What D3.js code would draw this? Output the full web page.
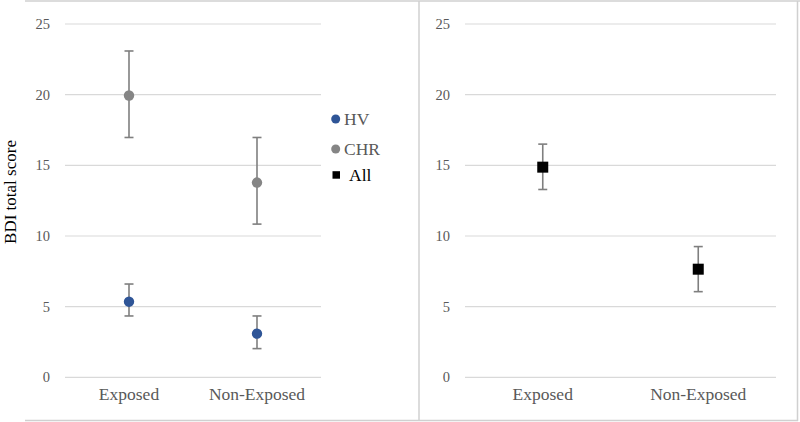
<!DOCTYPE html>
<html><head><meta charset="utf-8">
<script src="https://cdn.jsdelivr.net/npm/d3@7"></script>
<style>body{margin:0;background:#fff}svg{display:block}text{font-family:"Liberation Serif","Times New Roman",serif}</style>
</head><body>
<svg id="c" width="800" height="422"></svg>
<script>
const categories = ["Exposed", "Non-Exposed"];
const yTicks = [0, 5, 10, 15, 20, 25];
const hvMean = [5.35, 3.09];
const hvLow = [4.34, 2.03];
const hvHigh = [6.6, 4.34];
const chrMean = [19.94, 13.78];
const chrLow = [16.97, 10.84];
const chrHigh = [23.09, 16.97];
const allMean = [14.87, 7.65];
const allLow = [13.29, 6.06];
const allHigh = [16.5, 9.25];
const legendLabels = ["HV", "CHR", "All"];
const yLabel = "BDI total score";

const svg = d3.select("#c");
const gridC = "#d9d9d9", textC = "#595959", errC = "#7f7f7f";
const hvC = "#2f5597", chrC = "#858585", allC = "#000000";

// frames
const frame = svg.append("g").attr("stroke", "#d0d0d0").attr("stroke-width", 1.5).attr("fill", "none");
frame.append("line").attr("x1", 25).attr("x2", 800).attr("y1", 1).attr("y2", 1);
frame.append("line").attr("x1", 25).attr("x2", 798).attr("y1", 420.5).attr("y2", 420.5);
frame.append("line").attr("x1", 419).attr("x2", 419).attr("y1", 1).attr("y2", 421);
frame.append("line").attr("x1", 797.5).attr("x2", 797.5).attr("y1", 1).attr("y2", 421);

const y = d3.scaleLinear().domain([0, 25]).range([377.3, 24]);

function panel(x0, x1, labelX, series) {
  const x = d3.scaleBand().domain(categories).range([x0, x1]);
  const g = svg.append("g");
  // gridlines
  g.selectAll(".grid").data(yTicks).join("line")
    .attr("x1", x0).attr("x2", x1)
    .attr("y1", d => y(d)).attr("y2", d => y(d))
    .attr("stroke", gridC).attr("stroke-width", 1.2);
  // y tick labels via axis
  const ax = g.append("g").attr("transform", `translate(${labelX},0)`)
    .call(d3.axisLeft(y).tickValues(yTicks).tickSize(0).tickPadding(0));
  ax.select(".domain").remove();
  ax.selectAll("text").attr("font-family", "Liberation Serif").attr("font-size", 14.5).attr("fill", textC);
  // x labels via axis
  const bx = g.append("g").attr("transform", `translate(0,388)`)
    .call(d3.axisBottom(x).tickSize(0).tickPadding(0));
  bx.select(".domain").remove();
  bx.selectAll("text").attr("font-family", "Liberation Serif").attr("font-size", 17.5).attr("fill", textC).attr("dy", "0.71em");

  series.forEach(s => {
    const cx = d => x(d) + x.bandwidth() / 2;
    const eg = g.append("g").attr("stroke", errC).attr("stroke-width", 1.6);
    categories.forEach((c, i) => {
      eg.append("line").attr("x1", cx(c)).attr("x2", cx(c)).attr("y1", y(s.high[i])).attr("y2", y(s.low[i]));
      eg.append("line").attr("x1", cx(c) - 4.5).attr("x2", cx(c) + 4.5).attr("y1", y(s.high[i])).attr("y2", y(s.high[i]));
      eg.append("line").attr("x1", cx(c) - 4.5).attr("x2", cx(c) + 4.5).attr("y1", y(s.low[i])).attr("y2", y(s.low[i]));
    });
    if (s.shape === "circle") {
      g.selectAll(null).data(categories).join("circle")
        .attr("cx", cx).attr("cy", (d, i) => y(s.mean[i])).attr("r", 5.2).attr("fill", s.color);
    } else {
      g.selectAll(null).data(categories).join("rect")
        .attr("x", d => cx(d) - 5.5).attr("y", (d, i) => y(s.mean[i]) - 5.5)
        .attr("width", 11).attr("height", 11).attr("fill", s.color);
    }
  });
}

panel(65, 321, 50, [
  {mean: hvMean, low: hvLow, high: hvHigh, color: hvC, shape: "circle"},
  {mean: chrMean, low: chrLow, high: chrHigh, color: chrC, shape: "circle"}
]);
panel(465, 776, 450, [
  {mean: allMean, low: allLow, high: allHigh, color: allC, shape: "square"}
]);

// y label
svg.append("text").attr("transform", "translate(16,192) rotate(-90)")
  .attr("text-anchor", "middle").attr("font-size", 17).attr("fill", "#000").text(yLabel);

// legend
const lg = svg.append("g");
const ly = [119, 149, 175];
lg.append("circle").attr("cx", 335.7).attr("cy", ly[0]).attr("r", 4.5).attr("fill", hvC);
lg.append("circle").attr("cx", 335.7).attr("cy", ly[1]).attr("r", 4.5).attr("fill", chrC);
lg.append("rect").attr("x", 332.5).attr("y", ly[2] - 3.8).attr("width", 7.5).attr("height", 7.5).attr("fill", allC);
lg.selectAll("text").data(legendLabels).join("text")
  .attr("x", (d, i) => i === 2 ? 349 : 344).attr("y", (d, i) => ly[i]).attr("dy", "0.35em")
  .attr("font-size", 17.5).attr("fill", (d, i) => i === 2 ? "#000" : textC).text(d => d);
</script>
</body></html>
